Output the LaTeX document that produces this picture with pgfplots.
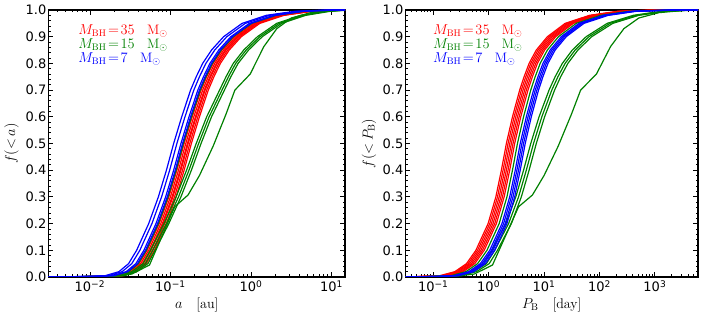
\documentclass[border=0pt]{standalone}
\usepackage{pgfplots}
\pgfplotsset{compat=1.18}
\usepackage{fontspec}
\newfontfamily\dv{DejaVu Sans}
\definecolor{mgreen}{rgb}{0,0.5,0}
\tikzset{leg/.style={anchor=base west, inner sep=0pt, font=\fontsize{13.7}{15}\selectfont}}
\pgfplotsset{
  every axis/.append style={
    scale only axis, height=267pt, ymin=0, ymax=1,
    ytick={0,0.1,0.2,0.3,0.4,0.5,0.6,0.7,0.8,0.9,1},
    minor y tick num=4,
    tick align=inside,
    major tick length=5pt, minor tick length=2.5pt,
    tick style={black, line width=0.8pt},
    axis line style={line width=1.2pt},
    yticklabel style={font=\dv\fontsize{13}{14}\selectfont, inner xsep=2pt,
      /pgf/number format/fixed, /pgf/number format/fixed zerofill,
      /pgf/number format/precision=1, /pgf/number format/assume math mode=true},
    xticklabel style={font=\dv\fontsize{13}{14}\selectfont},
    label style={font=\fontsize{14}{16}\selectfont},
    xlabel style={at={(axis description cs:0.5,-0.105)}, anchor=center},
    ylabel style={at={(axis description cs:-0.125,0.5)}, anchor=center},
  },
  every axis plot/.append style={line width=1.2pt, no markers},
}
\begin{document}
\begin{tikzpicture}
\useasboundingbox (0pt,0pt) rectangle (706pt,321pt);
% ---------------- left panel: semimajor axis ----------------
\begin{axis}[xmode=log, at={(48.5pt,44pt)}, anchor=south west, width=296.5pt,
  xmin=0.00306, xmax=14.7,
  xtick={0.01,0.1,1,10},
  xticklabels={10\textsuperscript{−2},10\textsuperscript{−1},10\textsuperscript{0},10\textsuperscript{1}},
  minor xtick={0.004,0.005,0.006,0.007,0.008,0.009,0.02,0.03,0.04,0.05,0.06,0.07,0.08,0.09,0.2,0.3,0.4,0.5,0.6,0.7,0.8,0.9,2,3,4,5,6,7,8,9},
  xlabel={$a$\quad[au]}, ylabel={$f(\mathord{<}\,a)$}]
% red: M_BH = 35
\addplot[red] coordinates {(0.003,0) (0.01175,0.002) (0.02089,0.005) (0.03090,0.02) (0.04074,0.05) (0.05129,0.1) (0.07244,0.2) (0.09550,0.3) (0.1202,0.4) (0.1479,0.5) (0.1862,0.6) (0.2399,0.7) (0.2818,0.75) (0.3388,0.8) (0.4365,0.85) (0.6166,0.9) (1.047,0.95) (2.089,0.98) (4.677,0.995) (11.75,1) (20,1)};
\addplot[red] coordinates {(0.003,0) (0.01230,0.002) (0.02188,0.005) (0.03236,0.02) (0.04266,0.05) (0.05370,0.1) (0.07586,0.2) (0.1000,0.3) (0.1259,0.4) (0.1549,0.5) (0.1950,0.6) (0.2512,0.7) (0.2951,0.75) (0.3548,0.8) (0.4571,0.85) (0.6457,0.9) (1.096,0.95) (2.188,0.98) (4.898,0.995) (12.30,1) (20,1)};
\addplot[red] coordinates {(0.003,0) (0.01288,0.002) (0.02291,0.005) (0.03388,0.02) (0.04467,0.05) (0.05623,0.1) (0.07943,0.2) (0.1047,0.3) (0.1318,0.4) (0.1622,0.5) (0.2042,0.6) (0.2630,0.7) (0.3090,0.75) (0.3715,0.8) (0.4786,0.85) (0.6761,0.9) (1.148,0.95) (2.291,0.98) (5.129,0.995) (12.88,1) (20,1)};
\addplot[red] coordinates {(0.003,0) (0.01318,0.002) (0.02344,0.005) (0.03467,0.02) (0.04571,0.05) (0.05754,0.1) (0.08128,0.2) (0.1072,0.3) (0.1349,0.4) (0.1660,0.5) (0.2089,0.6) (0.2692,0.7) (0.3162,0.75) (0.3802,0.8) (0.4898,0.85) (0.6918,0.9) (1.175,0.95) (2.344,0.98) (5.248,0.995) (13.18,1) (20,1)};
\addplot[red] coordinates {(0.003,0) (0.01380,0.002) (0.02455,0.005) (0.03631,0.02) (0.04786,0.05) (0.06026,0.1) (0.08511,0.2) (0.1122,0.3) (0.1413,0.4) (0.1738,0.5) (0.2188,0.6) (0.2818,0.7) (0.3311,0.75) (0.3981,0.8) (0.5129,0.85) (0.7244,0.9) (1.230,0.95) (2.455,0.98) (5.495,0.995) (13.80,1) (20,1)};
\addplot[red] coordinates {(0.003,0) (0.01445,0.002) (0.02570,0.005) (0.03802,0.02) (0.05012,0.05) (0.06310,0.1) (0.08913,0.2) (0.1175,0.3) (0.1479,0.4) (0.1820,0.5) (0.2291,0.6) (0.2951,0.7) (0.3467,0.75) (0.4169,0.8) (0.5370,0.85) (0.7586,0.9) (1.288,0.95) (2.570,0.98) (5.754,0.995) (14.45,1) (20,1)};
% green: M_BH = 15
\addplot[mgreen] coordinates {(0.003,0) (0.01148,0.002) (0.02042,0.005) (0.03020,0.02) (0.03981,0.05) (0.05012,0.1) (0.07079,0.2) (0.09333,0.3) (0.1175,0.4) (0.1445,0.5) (0.1820,0.6) (0.2344,0.7) (0.2754,0.75) (0.3311,0.8) (0.4266,0.85) (0.6026,0.9) (1.023,0.95) (2.042,0.98) (4.571,0.995) (11.48,1) (20,1)};
\addplot[mgreen] coordinates {(0.003,0) (0.01175,0.002) (0.02344,0.005) (0.03311,0.02) (0.04571,0.05) (0.05623,0.1) (0.08318,0.2) (0.1175,0.3) (0.1585,0.4) (0.2089,0.5) (0.2818,0.6) (0.4074,0.7) (0.4898,0.75) (0.6026,0.8) (0.8128,0.85) (1.202,0.9) (2.089,0.95) (4.169,0.98) (8.318,0.995) (14.79,1) (20,1)};
\addplot[mgreen] coordinates {(0.003,0) (0.01259,0.002) (0.02512,0.005) (0.03548,0.02) (0.04898,0.05) (0.06026,0.1) (0.08913,0.2) (0.1259,0.3) (0.1698,0.4) (0.2239,0.5) (0.3020,0.6) (0.4365,0.7) (0.5248,0.75) (0.6457,0.8) (0.8710,0.85) (1.288,0.9) (2.239,0.95) (4.467,0.98) (8.913,0.995) (15.85,1) (20,1)};
\addplot[mgreen] coordinates {(0.003,0) (0.01349,0.002) (0.02692,0.005) (0.03802,0.02) (0.05248,0.05) (0.06457,0.1) (0.09550,0.2) (0.1349,0.3) (0.1820,0.4) (0.2399,0.5) (0.3236,0.6) (0.4677,0.7) (0.5623,0.75) (0.6918,0.8) (0.9333,0.85) (1.380,0.9) (2.399,0.95) (4.786,0.98) (9.550,0.995) (16.98,1) (20,1)};
\addplot[mgreen] coordinates {(0.003,0) (0.01259,0.002) (0.02399,0.006) (0.03311,0.011) (0.05495,0.045) (0.1130,0.263) (0.1652,0.307) (0.2291,0.38) (0.3388,0.49) (0.4898,0.61) (0.6310,0.70) (0.9772,0.76) (1.445,0.863) (2.089,0.93) (3.162,0.97) (5.495,0.99) (12.59,1) (20,1)};
% blue: M_BH = 7
\addplot[blue] coordinates {(0.003,0) (0.00871,0.002) (0.01549,0.005) (0.02291,0.02) (0.03020,0.05) (0.03802,0.1) (0.05370,0.2) (0.07079,0.3) (0.08913,0.4) (0.1096,0.5) (0.1380,0.6) (0.1778,0.7) (0.2089,0.75) (0.2512,0.8) (0.3236,0.85) (0.4571,0.9) (0.7762,0.95) (1.549,0.98) (3.467,0.995) (8.710,1) (20,1)};
\addplot[blue] coordinates {(0.003,0) (0.00955,0.002) (0.01698,0.005) (0.02512,0.02) (0.03311,0.05) (0.04169,0.1) (0.05888,0.2) (0.07762,0.3) (0.09772,0.4) (0.1202,0.5) (0.1514,0.6) (0.1950,0.7) (0.2291,0.75) (0.2754,0.8) (0.3548,0.85) (0.5012,0.9) (0.8511,0.95) (1.698,0.98) (3.802,0.995) (9.550,1) (20,1)};
\addplot[blue] coordinates {(0.003,0) (0.01072,0.002) (0.01905,0.005) (0.02818,0.02) (0.03715,0.05) (0.04677,0.1) (0.06607,0.2) (0.08710,0.3) (0.1096,0.4) (0.1349,0.5) (0.1698,0.6) (0.2188,0.7) (0.2570,0.75) (0.3090,0.8) (0.3981,0.85) (0.5623,0.9) (0.9550,0.95) (1.905,0.98) (4.266,0.995) (10.72,1) (20,1)};
\addplot[blue] coordinates {(0.003,0) (0.01122,0.002) (0.01995,0.005) (0.02951,0.02) (0.03890,0.05) (0.04898,0.1) (0.06918,0.2) (0.09120,0.3) (0.1148,0.4) (0.1413,0.5) (0.1778,0.6) (0.2291,0.7) (0.2692,0.75) (0.3236,0.8) (0.4169,0.85) (0.5888,0.9) (1.000,0.95) (1.995,0.98) (4.467,0.995) (11.22,1) (20,1)};
\node[leg, text=red] at (rel axis cs:0.1,0.909) {$M_{\mathrm{BH}}\!=\!35$\hspace{0.9em}M$_\odot$};
\node[leg, text=mgreen] at (rel axis cs:0.1,0.857) {$M_{\mathrm{BH}}\!=\!15$\hspace{0.9em}M$_\odot$};
\node[leg, text=blue] at (rel axis cs:0.1,0.804) {$M_{\mathrm{BH}}\!=\!7$\hspace{0.9em}M$_\odot$};
\end{axis}
% ---------------- right panel: orbital period ----------------
\begin{axis}[xmode=log, at={(405.5pt,44pt)}, anchor=south west, width=292.5pt,
  xmin=0.0316, xmax=6000,
  xtick={0.1,1,10,100,1000},
  xticklabels={10\textsuperscript{−1},10\textsuperscript{0},10\textsuperscript{1},10\textsuperscript{2},10\textsuperscript{3}},
  minor xtick={0.04,0.05,0.06,0.07,0.08,0.09,0.2,0.3,0.4,0.5,0.6,0.7,0.8,0.9,2,3,4,5,6,7,8,9,20,30,40,50,60,70,80,90,200,300,400,500,600,700,800,900,2000,3000,4000,5000},
  xlabel={$P_{\mathrm{B}}$\quad[day]}, ylabel={$f(\mathord{<}\,P_{\mathrm{B}})$}]
% red
\addplot[red] coordinates {(0.03,0) (0.05888,0.002) (0.1318,0.005) (0.2455,0.02) (0.3981,0.05) (0.5888,0.1) (0.9772,0.2) (1.349,0.3) (1.698,0.4) (2.089,0.5) (2.692,0.6) (3.631,0.7) (4.365,0.75) (5.370,0.8) (7.244,0.85) (11.48,0.9) (23.99,0.95) (66.07,0.98) (208.9,0.995) (1047,1) (8000,1)};
\addplot[red] coordinates {(0.03,0) (0.06310,0.002) (0.1413,0.005) (0.2630,0.02) (0.4266,0.05) (0.6310,0.1) (1.047,0.2) (1.445,0.3) (1.820,0.4) (2.239,0.5) (2.884,0.6) (3.890,0.7) (4.677,0.75) (5.754,0.8) (7.762,0.85) (12.30,0.9) (25.70,0.95) (70.79,0.98) (223.9,0.995) (1122,1) (8000,1)};
\addplot[red] coordinates {(0.03,0) (0.06761,0.002) (0.1514,0.005) (0.2818,0.02) (0.4571,0.05) (0.6761,0.1) (1.122,0.2) (1.549,0.3) (1.950,0.4) (2.399,0.5) (3.090,0.6) (4.169,0.7) (5.012,0.75) (6.166,0.8) (8.318,0.85) (13.18,0.9) (27.54,0.95) (75.86,0.98) (239.9,0.995) (1202,1) (8000,1)};
\addplot[red] coordinates {(0.03,0) (0.07244,0.002) (0.1622,0.005) (0.3020,0.02) (0.4898,0.05) (0.7244,0.1) (1.202,0.2) (1.660,0.3) (2.089,0.4) (2.570,0.5) (3.311,0.6) (4.467,0.7) (5.370,0.75) (6.607,0.8) (8.913,0.85) (14.13,0.9) (29.51,0.95) (81.28,0.98) (257.0,0.995) (1288,1) (8000,1)};
\addplot[red] coordinates {(0.03,0) (0.07762,0.002) (0.1738,0.005) (0.3236,0.02) (0.5248,0.05) (0.7762,0.1) (1.288,0.2) (1.778,0.3) (2.239,0.4) (2.754,0.5) (3.548,0.6) (4.786,0.7) (5.754,0.75) (7.079,0.8) (9.550,0.85) (15.14,0.9) (31.62,0.95) (87.10,0.98) (275.4,0.995) (1380,1) (8000,1)};
\addplot[red] coordinates {(0.03,0) (0.08318,0.002) (0.1862,0.005) (0.3467,0.02) (0.5623,0.05) (0.8318,0.1) (1.380,0.2) (1.905,0.3) (2.399,0.4) (2.951,0.5) (3.802,0.6) (5.129,0.7) (6.166,0.75) (7.586,0.8) (10.23,0.85) (16.22,0.9) (33.88,0.95) (93.33,0.98) (295.1,0.995) (1479,1) (8000,1)};
% green
\addplot[mgreen] coordinates {(0.03,0) (0.09333,0.002) (0.2089,0.005) (0.3890,0.02) (0.6310,0.05) (0.9333,0.1) (1.549,0.2) (2.138,0.3) (2.692,0.4) (3.311,0.5) (4.266,0.6) (5.754,0.7) (6.918,0.75) (8.511,0.8) (11.48,0.85) (18.20,0.9) (38.02,0.95) (104.7,0.98) (331.1,0.995) (1660,1) (8000,1)};
\addplot[mgreen] coordinates {(0.03,0) (0.1023,0.002) (0.2570,0.005) (0.4786,0.02) (0.8128,0.05) (1.148,0.1) (2.042,0.2) (3.090,0.3) (4.266,0.4) (5.754,0.5) (8.128,0.6) (12.30,0.7) (15.85,0.75) (21.38,0.8) (32.36,0.85) (57.54,0.9) (138.0,0.95) (407.4,0.98) (1288,0.995) (4571,1) (8000,1)};
\addplot[mgreen] coordinates {(0.03,0) (0.1148,0.002) (0.2884,0.005) (0.5370,0.02) (0.9120,0.05) (1.288,0.1) (2.291,0.2) (3.467,0.3) (4.786,0.4) (6.457,0.5) (9.120,0.6) (13.80,0.7) (17.78,0.75) (23.99,0.8) (36.31,0.85) (64.57,0.9) (154.9,0.95) (457.1,0.98) (1445,0.995) (5129,1) (8000,1)};
\addplot[mgreen] coordinates {(0.03,0) (0.1288,0.002) (0.3236,0.005) (0.6026,0.02) (1.023,0.05) (1.445,0.1) (2.570,0.2) (3.890,0.3) (5.370,0.4) (7.244,0.5) (10.23,0.6) (15.49,0.7) (19.95,0.75) (26.92,0.8) (40.74,0.85) (72.44,0.9) (173.8,0.95) (512.9,0.98) (1622,0.995) (5754,1) (8000,1)};
\addplot[mgreen] coordinates {(0.03,0) (0.1288,0.002) (0.3388,0.006) (0.5495,0.011) (1.175,0.045) (3.467,0.263) (6.166,0.307) (10.00,0.38) (17.99,0.49) (31.26,0.61) (45.71,0.70) (88.10,0.76) (158.5,0.863) (275.4,0.93) (512.9,0.97) (1175,0.99) (4074,1) (8000,1)};
% blue
\addplot[blue] coordinates {(0.03,0) (0.1047,0.002) (0.2344,0.005) (0.4365,0.02) (0.7079,0.05) (1.047,0.1) (1.738,0.2) (2.399,0.3) (3.020,0.4) (3.715,0.5) (4.786,0.6) (6.457,0.7) (7.762,0.75) (9.550,0.8) (12.88,0.85) (20.42,0.9) (42.66,0.95) (117.5,0.98) (371.5,0.995) (1862,1) (8000,1)};
\addplot[blue] coordinates {(0.03,0) (0.1122,0.002) (0.2512,0.005) (0.4677,0.02) (0.7586,0.05) (1.122,0.1) (1.862,0.2) (2.570,0.3) (3.236,0.4) (3.981,0.5) (5.129,0.6) (6.918,0.7) (8.318,0.75) (10.23,0.8) (13.80,0.85) (21.88,0.9) (45.71,0.95) (125.9,0.98) (398.1,0.995) (1995,1) (8000,1)};
\addplot[blue] coordinates {(0.03,0) (0.1202,0.002) (0.2692,0.005) (0.5012,0.02) (0.8128,0.05) (1.202,0.1) (1.995,0.2) (2.754,0.3) (3.467,0.4) (4.266,0.5) (5.495,0.6) (7.413,0.7) (8.913,0.75) (10.96,0.8) (14.79,0.85) (23.44,0.9) (48.98,0.95) (134.9,0.98) (426.6,0.995) (2138,1) (8000,1)};
\addplot[blue] coordinates {(0.03,0) (0.1288,0.002) (0.2884,0.005) (0.5370,0.02) (0.8710,0.05) (1.288,0.1) (2.138,0.2) (2.951,0.3) (3.715,0.4) (4.571,0.5) (5.888,0.6) (7.943,0.7) (9.550,0.75) (11.75,0.8) (15.85,0.85) (25.12,0.9) (52.48,0.95) (144.5,0.98) (457.1,0.995) (2291,1) (8000,1)};
\node[leg, text=red] at (rel axis cs:0.094,0.909) {$M_{\mathrm{BH}}\!=\!35$\hspace{0.9em}M$_\odot$};
\node[leg, text=mgreen] at (rel axis cs:0.094,0.857) {$M_{\mathrm{BH}}\!=\!15$\hspace{0.9em}M$_\odot$};
\node[leg, text=blue] at (rel axis cs:0.094,0.804) {$M_{\mathrm{BH}}\!=\!7$\hspace{0.9em}M$_\odot$};
\end{axis}
\end{tikzpicture}
\end{document}
